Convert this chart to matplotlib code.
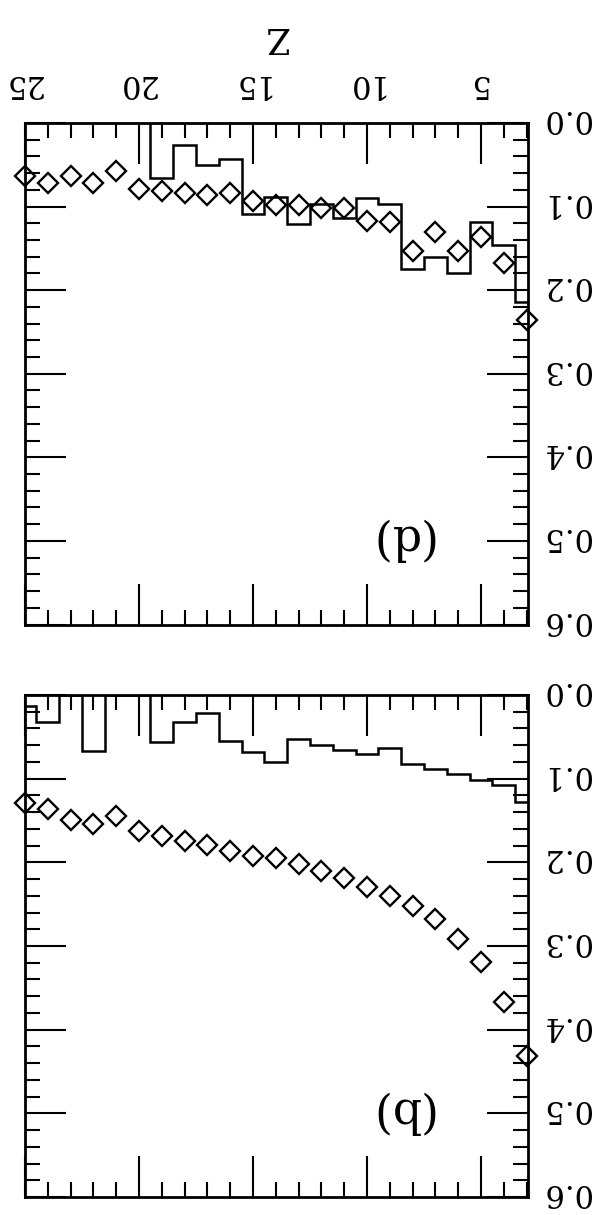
import matplotlib
matplotlib.use('Agg')
import matplotlib.pyplot as plt
from matplotlib.ticker import MultipleLocator
from matplotlib.transforms import ScaledTranslation

plt.rcParams['font.family'] = ['DejaVu Serif']

# atomic number Z for every point
z = [25, 24, 23, 22, 21, 20, 19, 18, 17, 16, 15, 14,
     13, 12, 11, 10, 9, 8, 7, 6, 5, 4, 3]

# panel (d): diamonds and histogram (histogram only from Z=19 down)
d_points = [0.063, 0.072, 0.064, 0.072, 0.057, 0.079, 0.081, 0.084, 0.086,
            0.084, 0.093, 0.098, 0.098, 0.102, 0.102, 0.117, 0.119, 0.153,
            0.131, 0.153, 0.137, 0.167, 0.236]
d_hist_z = [19, 18, 17, 16, 15, 14, 13, 12, 11, 10, 9, 8, 7, 6, 5, 4, 3]
d_hist = [0.066, 0.026, 0.050, 0.043, 0.109, 0.0885, 0.121, 0.097, 0.1135,
          0.090, 0.097, 0.175, 0.160, 0.179, 0.119, 0.146, 0.214]

# panel (b)
b_points = [0.129, 0.136, 0.150, 0.154, 0.145, 0.162, 0.169, 0.175, 0.179,
            0.187, 0.192, 0.195, 0.202, 0.210, 0.219, 0.229, 0.240, 0.252,
            0.268, 0.292, 0.319, 0.367, 0.431]
b_hist = [0.013, 0.032, 0.0, 0.067, 0.0, 0.0, 0.056, 0.032, 0.021, 0.055,
          0.068, 0.080, 0.053, 0.0595, 0.066, 0.0705, 0.0635, 0.0825, 0.0885,
          0.095, 0.102, 0.108, 0.128]

ytick_vals = [0.0, 0.1, 0.2, 0.3, 0.4, 0.5, 0.6]
xtick_vals = [25, 20, 15, 10, 5]


def edges_of(zs):
    return [zs[0] + 0.5] + [v - 0.5 for v in zs]


def style_axes(fig, ax, top_labels):
    ax.set_xlim(25, 2.95)
    ax.set_ylim(0.6, 0.0)
    for s in ax.spines.values():
        s.set_linewidth(2)
    ax.set_yticks(ytick_vals)
    ax.set_yticklabels([f'{v:.1f}' for v in ytick_vals])
    ax.yaxis.set_minor_locator(MultipleLocator(0.02))
    ax.set_xticks(xtick_vals)
    ax.set_xticklabels([str(v) for v in xtick_vals])
    ax.xaxis.set_minor_locator(MultipleLocator(1))
    ax.tick_params(which='both', direction='in', top=True, bottom=True,
                   left=True, right=True, width=1.5, color='k')
    ax.tick_params(which='major', length=29.5)
    ax.tick_params(which='minor', length=10.5)
    ax.tick_params(axis='y', labelleft=False, labelright=True,
                   labelsize=22, labelrotation=180, pad=10)
    ax.tick_params(axis='x', labelbottom=False, labeltop=top_labels,
                   labelsize=22, labelrotation=180, pad=17)
    # nudge the upside-down labels so the digits sit on the ticks
    up = ScaledTranslation(0, 4.5 / 100, fig.dpi_scale_trans)
    for tick in ax.yaxis.get_major_ticks():
        tick.label2.set_verticalalignment('center')
        tick.label2.set_transform(tick.label2.get_transform() + up)
    left = ScaledTranslation(-3 / 100, 0, fig.dpi_scale_trans)
    for tick in ax.xaxis.get_major_ticks():
        tick.label2.set_transform(tick.label2.get_transform() + left)


fig = plt.figure(figsize=(6.08, 12.15), dpi=100)
ax_d = fig.add_axes([0.0411, 0.486, 0.8268, 0.4128])
ax_b = fig.add_axes([0.0411, 0.0148, 0.8268, 0.4132])

ax_d.stairs(d_hist, edges_of(d_hist_z), baseline=0, color='k', lw=1.8)
ax_d.plot(z, d_points, ls='none', marker='D', ms=10, mfc='none', mec='k',
          mew=1.7, clip_on=False)
ax_d.text(0.745, 0.172, '(d)', transform=ax_d.transAxes, rotation=180,
          ha='center', va='center', fontsize=33)
style_axes(fig, ax_d, True)

ax_b.stairs(b_hist, edges_of(z), baseline=0, color='k', lw=1.8)
ax_b.plot(z, b_points, ls='none', marker='D', ms=10, mfc='none', mec='k',
          mew=1.7, clip_on=False)
ax_b.text(0.745, 0.172, '(b)', transform=ax_b.transAxes, rotation=180,
          ha='center', va='center', fontsize=33)
style_axes(fig, ax_b, False)

fig.text(276 / 608, 1 - 37 / 1215, 'Z', rotation=180, ha='center',
         va='center', fontsize=25)

fig.savefig('out.png', dpi=100)
